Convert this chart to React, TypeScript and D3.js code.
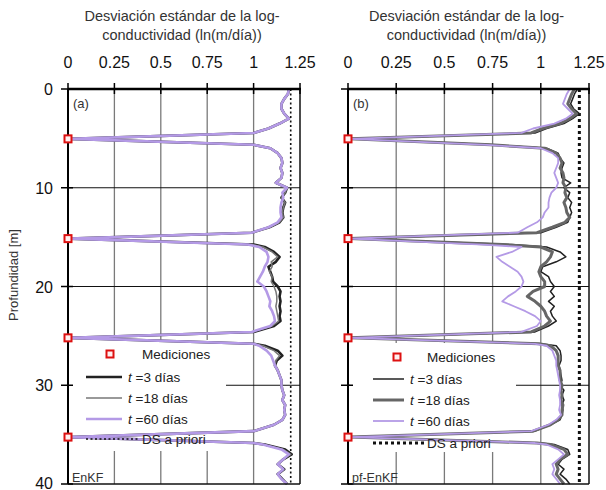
import React from "react";
import * as d3 from "d3";

// Depth grid (m)
const depth = [
  0, 0.5, 1, 1.5, 2, 2.5, 3, 3.5, 4, 4.45,
  5.05, 5.65,
  6, 6.5, 7, 7.5, 8, 8.5, 9, 9.5, 10, 10.5, 11, 11.5, 12, 12.5, 13, 13.5, 14, 14.55,
  15.15, 15.75,
  16, 16.5, 17, 17.5, 18, 18.5, 19, 19.5, 20, 20.5, 21, 21.5, 22, 22.5, 23, 23.5, 24, 24.6,
  25.2, 25.8,
  26, 26.5, 27, 27.5, 28, 28.5, 29, 29.5, 30, 30.5, 31, 31.5, 32, 32.5, 33, 33.5, 34, 34.65,
  35.25, 35.85,
  36, 36.5, 37, 37.5, 38, 38.5, 39, 39.5, 40,
];

// Panel (a) EnKF
const enkf_t3 = [
  1.19, 1.185, 1.165, 1.15, 1.15, 1.165, 1.19, 1.14, 1.08, 1.0,
  0.01, 1.0,
  1.09, 1.13, 1.15, 1.155, 1.145, 1.155, 1.15, 1.12, 1.18, 1.17, 1.15, 1.17, 1.16, 1.155, 1.16, 1.14, 1.085, 0.99,
  0.01, 1.0,
  1.06, 1.11, 1.14, 1.12, 1.08, 1.09, 1.1, 1.105, 1.13, 1.145, 1.14, 1.145, 1.14, 1.145, 1.14, 1.145, 1.11, 1.0,
  0.01, 1.0,
  1.06, 1.13, 1.155, 1.125, 1.115, 1.13, 1.14, 1.15, 1.15, 1.155, 1.165, 1.155, 1.17, 1.165, 1.17, 1.155, 1.11, 1.0,
  0.01, 1.0,
  1.06, 1.17, 1.205, 1.16, 1.13, 1.165, 1.13, 1.155, 1.18,
];
const enkf_t18 = [
  1.19, 1.185, 1.165, 1.15, 1.15, 1.165, 1.19, 1.14, 1.08, 1.0,
  0.01, 1.0,
  1.09, 1.13, 1.15, 1.155, 1.145, 1.155, 1.15, 1.12, 1.18, 1.17, 1.15, 1.17, 1.16, 1.155, 1.16, 1.14, 1.085, 0.99,
  0.01, 0.99,
  1.05, 1.1, 1.13, 1.095, 1.1, 1.085, 1.1, 1.095, 1.11, 1.12, 1.125, 1.125, 1.12, 1.125, 1.13, 1.135, 1.1, 0.99,
  0.01, 1.0,
  1.05, 1.11, 1.14, 1.12, 1.115, 1.13, 1.14, 1.15, 1.15, 1.155, 1.165, 1.155, 1.17, 1.165, 1.17, 1.155, 1.11, 1.0,
  0.01, 1.0,
  1.05, 1.16, 1.2, 1.16, 1.13, 1.16, 1.13, 1.15, 1.18,
];
const enkf_t60 = [
  1.19, 1.185, 1.165, 1.15, 1.15, 1.165, 1.19, 1.14, 1.08, 1.0,
  0.01, 1.0,
  1.09, 1.13, 1.15, 1.155, 1.145, 1.155, 1.15, 1.12, 1.18, 1.155, 1.16, 1.15, 1.145, 1.145, 1.15, 1.13, 1.08, 0.99,
  0.01, 0.97,
  1.03, 1.07, 1.08, 1.075, 1.06, 1.05, 1.035, 1.02, 1.055, 1.07, 1.08, 1.09, 1.085, 1.1, 1.11, 1.115, 1.09, 0.99,
  0.01, 1.0,
  1.03, 1.07, 1.095, 1.105, 1.115, 1.13, 1.14, 1.15, 1.15, 1.155, 1.165, 1.155, 1.17, 1.165, 1.17, 1.155, 1.11, 1.0,
  0.01, 1.0,
  1.05, 1.15, 1.19, 1.16, 1.13, 1.16, 1.13, 1.15, 1.18,
];

// Panel (b) pf-EnKF
const pf_t3 = [
  1.19, 1.175, 1.165, 1.155, 1.17, 1.2, 1.165, 1.12, 1.03, 0.97,
  0.01, 0.75,
  1.03, 1.09, 1.1, 1.12, 1.11, 1.105, 1.11, 1.155, 1.12, 1.15, 1.14, 1.16, 1.15, 1.16, 1.15, 1.14, 1.08, 1.0,
  0.01, 0.85,
  1.03, 1.1, 1.13, 1.08, 1.01, 1.0, 1.04, 1.05, 1.07, 1.05, 1.07, 1.04, 1.07, 1.05, 1.06, 1.08, 1.04, 0.97,
  0.01, 1.0,
  1.08, 1.1, 1.105, 1.105, 1.095, 1.1, 1.105, 1.11, 1.1, 1.12, 1.11, 1.12, 1.11, 1.115, 1.11, 1.1, 1.05, 0.97,
  0.01, 1.0,
  1.07, 1.14, 1.15, 1.11, 1.09, 1.12, 1.1, 1.13, 1.15,
];
const pf_t18 = [
  1.175, 1.16, 1.15, 1.14, 1.16, 1.185, 1.15, 1.1, 1.01, 0.95,
  0.01, 0.74,
  1.02, 1.08, 1.1, 1.11, 1.1, 1.115, 1.12, 1.115, 1.13, 1.125, 1.135, 1.12, 1.13, 1.135, 1.15, 1.125, 1.06, 0.98,
  0.01, 0.8,
  1.0, 1.06, 1.05, 1.03, 1.0, 0.99, 1.0, 1.02, 1.02, 0.96, 0.93, 0.97, 1.0, 1.02, 1.03, 1.05, 1.02, 0.95,
  0.01, 0.99,
  1.05, 1.08, 1.09, 1.09, 1.09, 1.1, 1.1, 1.1, 1.11, 1.105, 1.11, 1.105, 1.115, 1.11, 1.11, 1.09, 1.05, 0.96,
  0.01, 0.98,
  1.05, 1.12, 1.14, 1.1, 1.08, 1.09, 1.08, 1.1, 1.12,
];
const pf_t60 = [
  1.15, 1.135, 1.125, 1.115, 1.14, 1.165, 1.13, 1.07, 0.96, 0.9,
  0.01, 0.72,
  1.0, 1.06, 1.09, 1.09, 1.08, 1.07, 1.08, 1.09, 1.08, 1.055, 1.045, 1.04, 1.04, 1.02, 1.01, 0.98, 0.93, 0.88,
  0.01, 0.7,
  0.9, 0.85, 0.77, 0.8, 0.84, 0.88, 0.9, 0.91, 0.9, 0.87, 0.83, 0.8, 0.86, 0.92, 0.97, 1.0, 0.98, 0.9,
  0.01, 0.97,
  1.03, 1.06, 1.07, 1.08, 1.08, 1.085, 1.09, 1.095, 1.1, 1.1, 1.095, 1.1, 1.1, 1.095, 1.105, 1.08, 1.04, 0.95,
  0.01, 0.97,
  1.03, 1.09, 1.12, 1.09, 1.06, 1.07, 1.06, 1.08, 1.1,
];

const measDepths = [5.05, 15.15, 25.2, 35.25];
const priorSD = 1.2;
const xTicks = [0, 0.25, 0.5, 0.75, 1, 1.25];
const yTicks = [0, 10, 20, 30, 40];
const legendLabels = ["=3 días", "=18 días", "=60 días"];
const titleLines = ["Desviación estándar de la log-", "conductividad (ln(m/día))"];

const FONT = "'Liberation Sans', Arial, sans-serif";
const PURPLE = "#b49ae6";

type Style = { color: string; width: number };
type PanelCfg = {
  x0: number; x1: number; label: string; method: string; showY: boolean;
  series: number[][]; styles: Style[]; dsDash: string; dsWidth: number;
  legBox: [number, number, number, number];
  mark: [number, number]; markText: number;
  legY: number[]; lineX: [number, number]; lineTextX: number; dsX: [number, number]; dsTextX: number;
};

const Y0 = 89, Y1 = 484;

const panels: PanelCfg[] = [
  {
    x0: 68, x1: 300, label: "(a)", method: "EnKF", showY: true,
    series: [enkf_t3, enkf_t18, enkf_t60],
    styles: [{ color: "#222", width: 2.6 }, { color: "#777", width: 1.5 }, { color: PURPLE, width: 2.6 }],
    dsDash: "2,2.5", dsWidth: 1.6,
    legBox: [69, 340, 157, 111],
    mark: [110, 354], markText: 142,
    legY: [377, 398, 419, 439], lineX: [86, 122], lineTextX: 128, dsX: [86, 138], dsTextX: 142,
  },
  {
    x0: 348, x1: 589, label: "(b)", method: "pf-EnKF", showY: false,
    series: [pf_t3, pf_t18, pf_t60],
    styles: [{ color: "#222", width: 1.5 }, { color: "#666", width: 3 }, { color: PURPLE, width: 1.8 }],
    dsDash: "3,3", dsWidth: 3,
    legBox: [350, 343, 166, 109],
    mark: [397, 357], markText: 427,
    legY: [379, 400, 421, 443], lineX: [373, 404], lineTextX: 410, dsX: [373, 425], dsTextX: 427,
  },
];

function Panel({ p }: { p: PanelCfg }) {
  const x = d3.scaleLinear().domain([0, 1.25]).range([p.x0, p.x1]);
  const y = d3.scaleLinear().domain([0, 40]).range([Y0, Y1]);
  const mk = (vals: number[]) =>
    d3.line<number>().x((v) => x(v)).y((_, i) => y(depth[i]))(vals) || "";
  const cx = (p.x0 + p.x1) / 2;
  return (
    <g>
      {/* titles */}
      {titleLines.map((t, i) => (
        <text key={t} x={cx - 2} y={21 + i * 19} textAnchor="middle" fontSize={14.5} fill="#333" fontFamily={FONT}>{t}</text>
      ))}
      {xTicks.map((t) => (
        <text key={"xl" + t} x={x(t)} y={67.5} textAnchor="middle" fontSize={16} fill="#111" fontFamily={FONT}>{String(t)}</text>
      ))}
      {/* grid */}
      {xTicks.filter((t) => t > 0 && t < 1.25).map((t) => (
        <line key={"gx" + t} x1={x(t)} x2={x(t)} y1={Y0} y2={Y1} stroke="#7a7a7a" strokeWidth={1.3} />
      ))}
      {yTicks.filter((t) => t > 0 && t < 40).map((t) => (
        <line key={"gy" + t} x1={p.x0} x2={p.x1} y1={y(t)} y2={y(t)} stroke="#111" strokeWidth={1} />
      ))}
      {/* legend background */}
      <rect x={p.legBox[0]} y={p.legBox[1]} width={p.legBox[2]} height={p.legBox[3]} fill="#fff" />
      {/* prior SD */}
      <line x1={x(priorSD)} x2={x(priorSD)} y1={Y0} y2={Y1} stroke="#111" strokeWidth={p.dsWidth} strokeDasharray={p.dsDash} />
      {/* series */}
      {p.series.map((s, i) => (
        <path key={"s" + i} d={mk(s)} fill="none" stroke={p.styles[i].color} strokeWidth={p.styles[i].width} strokeLinejoin="round" />
      ))}
      {/* frame */}
      <line x1={p.x1} x2={p.x1} y1={Y0} y2={Y1} stroke="#111" strokeWidth={1.5} />
      <line x1={p.x0} x2={p.x1} y1={Y1} y2={Y1} stroke="#111" strokeWidth={1.5} />
      <line x1={p.x0} x2={p.x1 + 1} y1={Y0} y2={Y0} stroke="#000" strokeWidth={2.5} />
      <line x1={p.x0} x2={p.x0} y1={Y0} y2={Y1} stroke="#000" strokeWidth={2} />
      {xTicks.map((t) => (
        <line key={"xt" + t} x1={x(t)} x2={x(t)} y1={Y0 - 6} y2={Y0 + 5} stroke="#000" strokeWidth={1.5} />
      ))}
      {yTicks.map((t) => (
        <line key={"yt" + t} x1={p.x0 - 7} x2={p.x0 + 5} y1={y(t)} y2={y(t)} stroke="#000" strokeWidth={1.5} />
      ))}
      {p.showY && yTicks.map((t) => (
        <text key={"yl" + t} x={p.x0 - 15} y={Math.min(y(t) + 6, 489)} textAnchor="end" fontSize={16} fill="#111" fontFamily={FONT}>{String(t)}</text>
      ))}
      {/* measurements */}
      {measDepths.map((d) => (
        <rect key={"m" + d} x={p.x0 - 3.5} y={y(d) - 3.5} width={7} height={7} fill="#fff0f0" stroke="#d11" strokeWidth={2} />
      ))}
      {/* labels */}
      <text x={p.x0 + 5} y={108} fontSize={13} fill="#333" fontFamily={FONT}>{p.label}</text>
      <text x={p.x0 + 4} y={482} fontSize={12.5} fill="#333" fontFamily={FONT}>{p.method}</text>
      {/* legend */}
      <rect x={p.mark[0] - 3.5} y={p.mark[1] - 3.5} width={7} height={7} fill="#fff0f0" stroke="#d11" strokeWidth={2} />
      <text x={p.markText} y={p.mark[1] + 5} fontSize={13.5} fill="#222" fontFamily={FONT}>Mediciones</text>
      {legendLabels.map((l, i) => (
        <g key={l}>
          <line x1={p.lineX[0]} x2={p.lineX[1]} y1={p.legY[i]} y2={p.legY[i]} stroke={p.styles[i].color} strokeWidth={p.styles[i].width} />
          <text x={p.lineTextX} y={p.legY[i] + 5} fontSize={13.5} fill="#222" fontFamily={FONT}>
            <tspan fontStyle="italic">t</tspan> {l}
          </text>
        </g>
      ))}
      <line x1={p.dsX[0]} x2={p.dsX[1]} y1={p.legY[3]} y2={p.legY[3]} stroke="#111" strokeWidth={p.dsWidth} strokeDasharray={p.dsDash} />
      <text x={p.dsTextX} y={p.legY[3] + 5} fontSize={13.5} fill="#222" fontFamily={FONT}>DS a priori</text>
    </g>
  );
}

export default function App() {
  return (
    <svg width={606} height={490} style={{ position: "absolute", left: 0, top: 0, background: "#fff" }}>
      <rect width={606} height={490} fill="#fff" />
      {panels.map((p) => <Panel key={p.label} p={p} />)}
      <text transform="translate(18,275) rotate(-90)" textAnchor="middle" fontSize={13} fill="#333" fontFamily={FONT}>Profundidad [m]</text>
    </svg>
  );
}
